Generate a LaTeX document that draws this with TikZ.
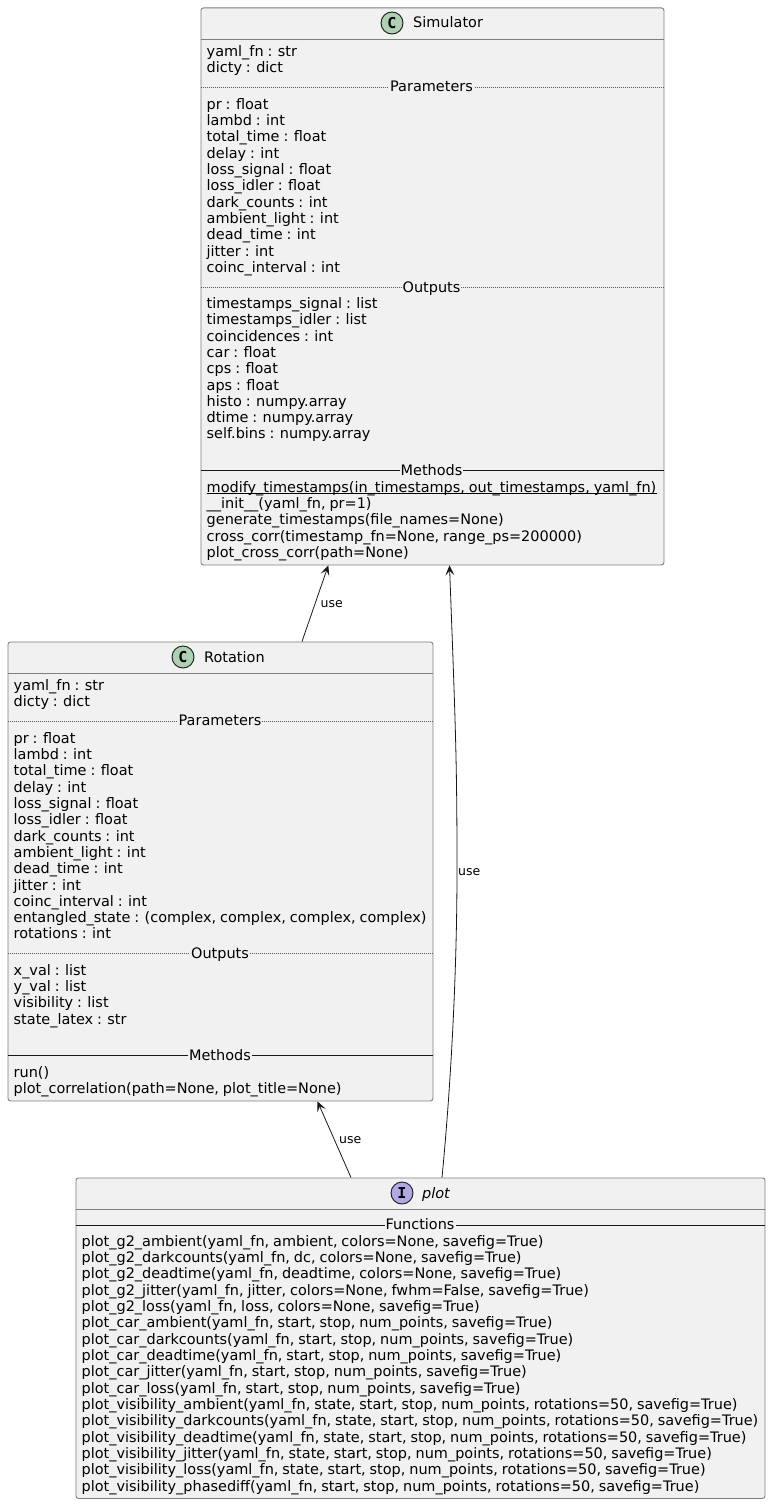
\documentclass[tikz,border=0pt]{standalone}
\usepackage{fontspec}
\setmainfont{DejaVu Sans}
\newfontfamily\spotfont{DejaVu Sans Mono}
\usetikzlibrary{arrows.meta,calc}
\definecolor{boxfill}{HTML}{F1F1F1}
\definecolor{boxline}{HTML}{7F7F7F}
\definecolor{ink}{HTML}{181818}
\definecolor{classc}{HTML}{ADD1B2}
\definecolor{ifacec}{HTML}{B4A7E5}
\newcommand{\fs}{\fontsize{14.45pt}{16pt}\selectfont\spaceskip=0.27em\relax}
\newcommand{\spotfs}{\fontsize{15pt}{15pt}\selectfont\spotfont\bfseries}
\tikzset{
  classbox/.style={draw=boxline,fill=boxfill,line width=0.9pt,rounded corners=2.5pt,inner sep=0pt,anchor=north west},
  headline/.style={draw=boxline,line width=0.9pt},
  txt/.style={anchor=base west,inner sep=0pt,text=black,font=\fs},
  title/.style={txt},
  seplabel/.style={anchor=base,inner xsep=1pt,inner ysep=1.5pt,fill=boxfill,text=black,font=\fs},
  dotsep/.style={draw=ink!70,line width=0.6pt,dash pattern=on 1pt off 1pt},
  solidsep/.style={draw=ink,line width=0.9pt},
  underrule/.style={draw=black,line width=0.9pt},
  spot/.style={circle,draw=ink,line width=0.9pt,minimum size=22pt,inner sep=0pt},
  useline/.style={draw=ink,line width=0.8pt,{Stealth[length=10pt,width=9pt,inset=4.5pt]}-},
  uselabel/.style={anchor=base west,inner sep=0pt,text=black,font=\fontsize{12.5pt}{13pt}\selectfont},
}
\begin{document}
\begin{tikzpicture}[x=1pt,y=-1pt]
\useasboundingbox (0,0) rectangle (770,1504);
% boxes
\node[classbox,minimum width=463pt,minimum height=557pt] (sim) at (200.5,7.5) {};
\node[classbox,minimum width=425pt,minimum height=459pt] (rot) at (7.5,641.5) {};
\node[classbox,minimum width=689pt,minimum height=320.5pt] (plt) at (75.5,1177.5) {};
% header rules
\draw[headline] ([yshift=-32pt]sim.north west) -- ([yshift=-32pt]sim.north east);
\draw[headline] ([yshift=-32pt]rot.north west) -- ([yshift=-32pt]rot.north east);
\draw[headline] ([yshift=-32pt]plt.north west) -- ([yshift=-32pt]plt.north east);
% headers
\node[spot,fill=classc] (simc) at (392,23) {\spotfs C};
\node[title] (simt) at (413,28) {Simulator};
\node[spot,fill=classc] (rotc) at (183,657) {\spotfs C};
\node[title] (rott) at (204,662) {Rotation};
\node[spot,fill=ifacec] (pltc) at (402,1193) {\spotfs I};
\node[title,font=\fs\itshape] (pltt) at (422,1198) {plot};
% Simulator separators
\draw[dotsep] (sim.west |- 0,87.5) -- (sim.east |- 0,87.5);
\node[seplabel] (simp) at (431.5,92) {Parameters};
\draw[dotsep] (sim.west |- 0,287.5) -- (sim.east |- 0,287.5);
\node[seplabel] (simo) at (431.5,292) {Outputs};
\draw[solidsep] (sim.west |- 0,470.5) -- (sim.east |- 0,470.5);
\node[seplabel] (simm) at (431.5,475) {Methods};
% Simulator text
\foreach \t [count=\i] in {yaml\_fn : str,dicty : dict}
  \node[txt] (sima\i) at (206.5,{56.5+(\i-1)*16.2}) {\t};
\foreach \t [count=\i] in {pr : float,lambd : int,total\_time : float,delay : int,loss\_signal : float,loss\_idler : float,dark\_counts : int,ambient\_light : int,dead\_time : int,jitter : int,coinc\_interval : int}
  \node[txt] (simb\i) at (206.5,{109.3+(\i-1)*16.3}) {\t};
\foreach \t [count=\i] in {timestamps\_signal : list,timestamps\_idler : list,coincidences : int,car : float,cps : float,aps : float,histo : numpy.array,dtime : numpy.array,self.bins : numpy.array}
  \node[txt] (simc\i) at (206.5,{308.5+(\i-1)*16.3}) {\t};
\foreach \t [count=\i] in {{modify\_timestamps(in\_timestamps, out\_timestamps, yaml\_fn)},{\_\_init\_\_(yaml\_fn, pr=1)},generate\_timestamps(file\_names=None),{cross\_corr(timestamp\_fn=None, range\_ps=200000)},plot\_cross\_corr(path=None)}
  \node[txt] (simd\i) at (206.5,{492.3+(\i-1)*16.3}) {\t};
\draw[underrule] ([yshift=-1.6pt]simd1.base west) -- ([yshift=-1.6pt]simd1.base east);
% Rotation separators
\draw[dotsep] (rot.west |- 0,721) -- (rot.east |- 0,721);
\node[seplabel] (rotp) at (220,725.7) {Parameters};
\draw[dotsep] (rot.west |- 0,953) -- (rot.east |- 0,953);
\node[seplabel] (roto) at (220,958) {Outputs};
\draw[solidsep] (rot.west |- 0,1055.3) -- (rot.east |- 0,1055.3);
\node[seplabel] (rotm) at (220,1060) {Methods};
% Rotation text
\foreach \t [count=\i] in {yaml\_fn : str,dicty : dict}
  \node[txt] (rota\i) at (13.5,{690.5+(\i-1)*16.2}) {\t};
\foreach \t [count=\i] in {pr : float,lambd : int,total\_time : float,delay : int,loss\_signal : float,loss\_idler : float,dark\_counts : int,ambient\_light : int,dead\_time : int,jitter : int,coinc\_interval : int,{entangled\_state : (complex, complex, complex, complex)},rotations : int}
  \node[txt] (rotb\i) at (13.5,{743.3+(\i-1)*16.3}) {\t};
\foreach \t [count=\i] in {x\_val : list,y\_val : list,visibility : list,state\_latex : str}
  \node[txt] (rotc\i) at (13.5,{975.3+(\i-1)*16.3}) {\t};
\foreach \t [count=\i] in {run(),{plot\_correlation(path=None, plot\_title=None)}}
  \node[txt] (rotd\i) at (13.5,{1077.3+(\i-1)*16.3}) {\t};
% plot separator and text
\draw[solidsep] (plt.west |- 0,1225) -- (plt.east |- 0,1225);
\node[seplabel] (pltf) at (420,1229.7) {Functions};
\foreach \t [count=\i] in {
  {plot\_g2\_ambient(yaml\_fn, ambient, colors=None, savefig=True)},
  {plot\_g2\_darkcounts(yaml\_fn, dc, colors=None, savefig=True)},
  {plot\_g2\_deadtime(yaml\_fn, deadtime, colors=None, savefig=True)},
  {plot\_g2\_jitter(yaml\_fn, jitter, colors=None, fwhm=False, savefig=True)},
  {plot\_g2\_loss(yaml\_fn, loss, colors=None, savefig=True)},
  {plot\_car\_ambient(yaml\_fn, start, stop, num\_points, savefig=True)},
  {plot\_car\_darkcounts(yaml\_fn, start, stop, num\_points, savefig=True)},
  {plot\_car\_deadtime(yaml\_fn, start, stop, num\_points, savefig=True)},
  {plot\_car\_jitter(yaml\_fn, start, stop, num\_points, savefig=True)},
  {plot\_car\_loss(yaml\_fn, start, stop, num\_points, savefig=True)},
  {plot\_visibility\_ambient(yaml\_fn, state, start, stop, num\_points, rotations=50, savefig=True)},
  {plot\_visibility\_darkcounts(yaml\_fn, state, start, stop, num\_points, rotations=50, savefig=True)},
  {plot\_visibility\_deadtime(yaml\_fn, state, start, stop, num\_points, rotations=50, savefig=True)},
  {plot\_visibility\_jitter(yaml\_fn, state, start, stop, num\_points, rotations=50, savefig=True)},
  {plot\_visibility\_loss(yaml\_fn, state, start, stop, num\_points, rotations=50, savefig=True)},
  {plot\_visibility\_phasediff(yaml\_fn, start, stop, num\_points, rotations=50, savefig=True)}}
  \node[txt] (pltl\i) at (81.5,{1246.3+(\i-1)*16.33}) {\t};
% connectors (endpoints on the box edges, by name)
\draw[useline] ([xshift=127.8pt]sim.south west) -- ([xshift=294.5pt]rot.north west);
\node[uselabel] (use1) at (320.5,607) {use};
\draw[useline] ([xshift=249pt]sim.south west) .. controls ([xshift=255pt,yshift=-160pt]sim.south west) and (457,760) .. (457,870)
   .. controls (457,980) and (450,1095) .. ([xshift=366.5pt]plt.north west);
\node[uselabel] (use2) at (458,875) {use};
\draw[useline] ([xshift=310pt]rot.south west) -- ([xshift=275.5pt]plt.north west);
\node[uselabel] (use3) at (339,1143) {use};
\end{tikzpicture}
\end{document}
